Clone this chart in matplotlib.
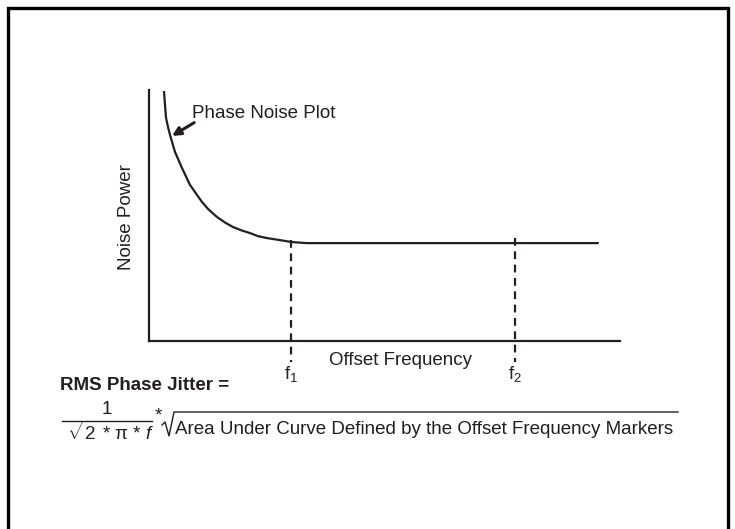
import matplotlib
matplotlib.use("Agg")
import matplotlib.pyplot as plt

plt.rcParams['font.family'] = ['Liberation Sans', 'DejaVu Sans']
plt.rcParams['mathtext.fontset'] = 'custom'
plt.rcParams['mathtext.rm'] = 'Liberation Sans'
plt.rcParams['mathtext.it'] = 'Liberation Sans:italic'
plt.rcParams['mathtext.bf'] = 'Liberation Sans:bold'

INK = '#231f20'
FS = 13.5

# phase noise curve (arbitrary units, axes run 0..100)
offset_freq = [3.18, 3.40, 3.61, 4.03, 4.46, 5.52, 7.01, 8.70, 10.19, 11.25, 12.53, 14.44,
               16.14, 17.83, 19.75, 21.44, 23.1, 25.05, 27.8, 30.36, 33.55, 95.5]
noise_power = [99.6, 94.0, 89.0, 85.3, 82.1, 75.3, 68.9, 62.2, 58.2, 55.4, 52.6, 49.4,
               47.2, 45.4, 44.0, 43.0, 41.8, 41.0, 40.2, 39.4, 39.0, 39.0]

# offset frequency markers
marker_names = ['1', '2']
marker_pos = [30.1, 77.7]
marker_top = [40.2, 41.0]

W, H = 735, 529
fig = plt.figure(figsize=(W / 100, H / 100), dpi=100)

# overlay in pixel units for frame and formula
ov = fig.add_axes([0, 0, 1, 1])
ov.set_xlim(0, W)
ov.set_ylim(H, 0)
ov.axis('off')
ov.plot([8, 8, 728, 728], [H + 5, 7.5, 7.5, H + 5], color='black', lw=2.4,
        solid_joinstyle='miter', clip_on=False)

ax = fig.add_axes([149 / W, (H - 341) / H, 471 / W, 251 / H])
ax.set_xlim(0, 100)
ax.set_ylim(0, 100)
ax.patch.set_alpha(0)
for s in ['top', 'right']:
    ax.spines[s].set_visible(False)
for s in ['left', 'bottom']:
    ax.spines[s].set_linewidth(1.6)
    ax.spines[s].set_color(INK)
ax.set_xticks([])
ax.set_yticks([])

ax.plot(offset_freq, noise_power, color=INK, lw=1.6, solid_capstyle='butt', solid_joinstyle='round')

for name, x, top in zip(marker_names, marker_pos, marker_top):
    ax.plot([x, x], [top, -8.4], color=INK, lw=1.6, ls=(0, (3.5, 2.5)), clip_on=False)
    ax.text(x, -13.0, r'f$_{' + name + '}$', ha='center', va='center', fontsize=FS, color=INK)

ax.text(53.5, -7.8, 'Offset Frequency', ha='center', va='center', fontsize=FS, color=INK)
ax.text(-4.7, 49.5, 'Noise Power', ha='center', va='center', rotation=90, fontsize=FS, color=INK)

ax.annotate('', xy=(4.88, 81.7), xytext=(9.6, 87.0),
            arrowprops=dict(arrowstyle='-|>,head_length=0.5,head_width=0.25', color=INK, lw=2.2,
                            shrinkA=0, shrinkB=0))
ax.text(9.2, 90.8, 'Phase Noise Plot', ha='left', va='center', fontsize=FS, color=INK)

# RMS jitter formula
ov.text(60, 386, 'RMS Phase Jitter =', ha='left', va='center', fontsize=FS, fontweight='bold', color=INK)
ov.text(107, 410, '1', ha='center', va='center', fontsize=FS, color=INK)
ov.plot([62, 152], [421, 421], color=INK, lw=1.0)
ov.text(67, 432, r'$\sqrt{2}$ * π * $f$', ha='left', va='center', fontsize=FS, color=INK)
ov.text(158, 416, '*', ha='center', va='center', fontsize=FS, color=INK)
ov.plot([162, 165, 169, 174, 678], [425, 422, 436, 412, 412], color=INK, lw=1.0)
ov.text(175, 429, 'Area Under Curve Defined by the Offset Frequency Markers',
        ha='left', va='center', fontsize=FS, color=INK)

fig.savefig('out.png', dpi=100)
